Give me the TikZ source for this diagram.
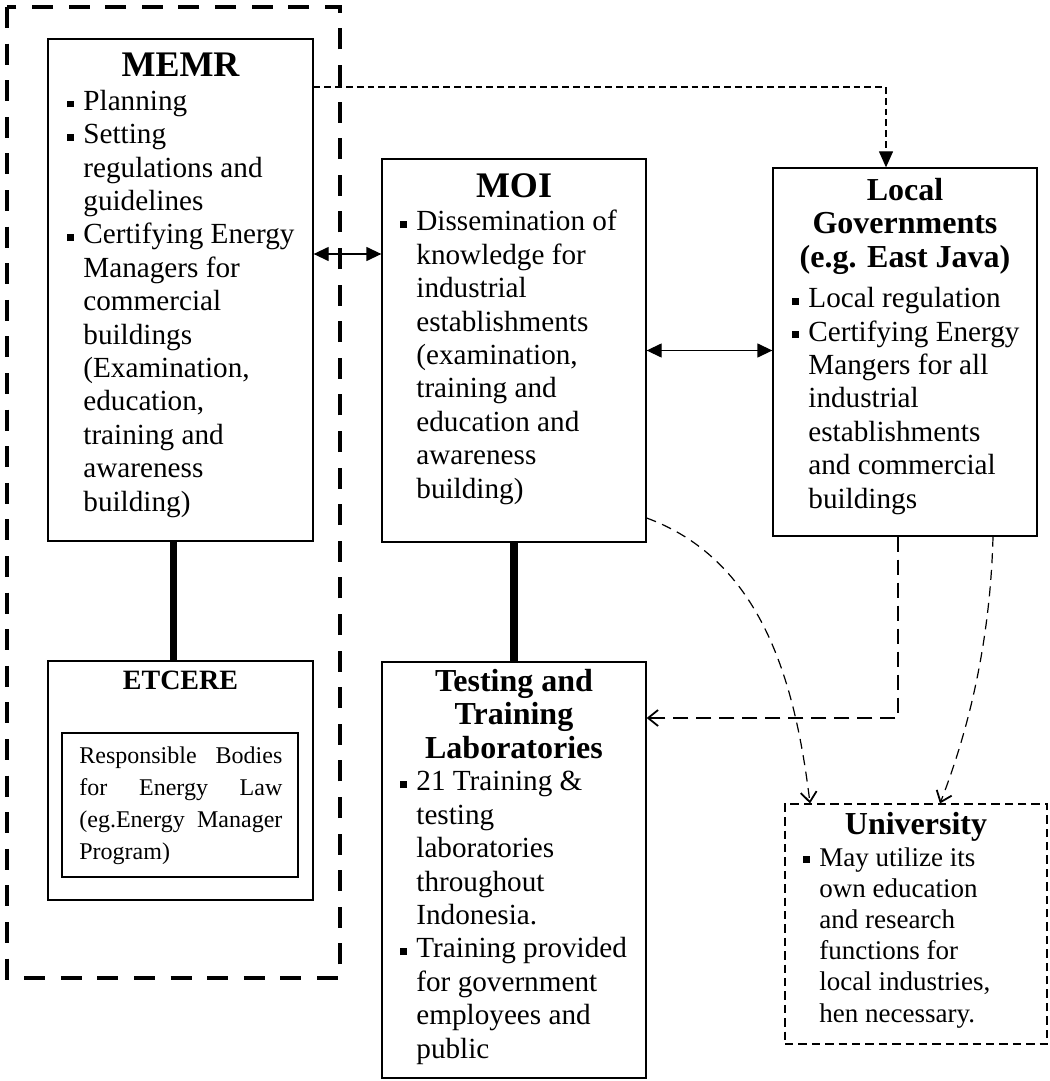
\documentclass[tikz,border=0pt]{standalone}
\usepackage{fontspec}
\setmainfont{Liberation Serif}
\usetikzlibrary{arrows.meta,positioning}

% square bullet and the hanging indent of its follow-on lines
\newcommand{\sqitem}{\makebox[8pt][l]{\rule[1.4pt]{3.4pt}{3.4pt}}}
\newcommand{\sqhang}{\hspace*{8pt}}

\begin{document}
\begin{tikzpicture}[x=0.5pt, y=-0.5pt,
      box/.style={draw, line width=0.65pt, inner sep=0pt},
      head/.style={anchor=base, align=center, inner sep=0pt,
                   font=\fontsize{18}{20}\selectfont\bfseries},
      subhead/.style={anchor=base, align=center, inner sep=0pt,
                      font=\fontsize{16}{16.6}\selectfont\bfseries},
      % multi-line texts are placed by the baseline of their last line
      body/.style={anchor=base west, align=left, inner sep=0pt,
                   font=\fontsize{14.6}{16.7}\selectfont},
      group/.style={line width=2.2pt, dash pattern=on 10.5pt off 7.8pt},
      link/.style={line width=3.8pt},
      twoway/.style={line width=0.65pt,
                     {Triangle[length=7.5pt,width=7pt]}-{Triangle[length=7.5pt,width=7pt]}},
      thindash/.style={line width=0.55pt, dash pattern=on 3.4pt off 2pt},
      longdash/.style={line width=0.6pt, dash pattern=on 7.5pt off 4pt},
      curvedash/.style={line width=0.6pt, dash pattern=on 5pt off 3.3pt},
      barb/.style={-{Straight Barb[length=5pt,width=8pt,line width=0.9pt]}}]

    \useasboundingbox[fill=white] (0,0) rectangle (1049,1081);

    % ministry of energy group
    \draw[group] (7,7) rectangle (340,978);

    \node[box, minimum width=132.5pt, minimum height=251pt] (memr) at (180.5,290) {};
    \node[head] (memr-head) at (180.5,77) {MEMR};
    \node[body] (memr-txt) at (67,511)
      {\sqitem Planning\\
       \sqitem Setting\\
       \sqhang regulations and\\
       \sqhang guidelines\\
       \sqitem Certifying Energy\\
       \sqhang Managers for\\
       \sqhang commercial\\
       \sqhang buildings\\
       \sqhang (Examination,\\
       \sqhang education,\\
       \sqhang training and\\
       \sqhang awareness\\
       \sqhang building)};

    \node[box, minimum width=132.5pt, minimum height=119.5pt] (etcere) at (180.5,780.5) {};
    \node[anchor=base, inner sep=0pt, font=\fontsize{14}{16}\selectfont\bfseries]
      (etcere-head) at (180.5,689) {ETCERE};
    \node[box, line width=0.8pt, minimum width=118pt, minimum height=72pt] (rbodies) at (180,805) {};
    \node[anchor=base west, align=left, inner sep=0pt, font=\fontsize{12}{16}\selectfont]
      (rbodies-txt) at (79,859)
      {\makebox[101.5pt][s]{Responsible Bodies}\\
       \makebox[101.5pt][s]{for Energy Law}\\
       \makebox[101.5pt][s]{(eg.Energy Manager}\\
       Program)};

    % industry side
    \node[box, minimum width=132pt, minimum height=191.5pt] (moi) at (514,350.5) {};
    \node[head] (moi-head) at (514,197) {MOI};
    \node[body] (moi-txt) at (400,498)
      {\sqitem Dissemination of\\
       \sqhang knowledge for\\
       \sqhang industrial\\
       \sqhang establishments\\
       \sqhang (examination,\\
       \sqhang training and\\
       \sqhang education and\\
       \sqhang awareness\\
       \sqhang building)};

    \node[box, minimum width=132pt, minimum height=208pt] (labs) at (514,870) {};
    \node[subhead] (labs-head) at (514,758) {Testing and\\Training\\Laboratories};
    \node[body] (labs-txt) at (400,1058)
      {\sqitem 21 Training \&\\
       \sqhang testing\\
       \sqhang laboratories\\
       \sqhang throughout\\
       \sqhang Indonesia.\\
       \sqitem Training provided\\
       \sqhang for government\\
       \sqhang employees and\\
       \sqhang public};

    \node[box, minimum width=132pt, minimum height=184pt] (locgov) at (905,352) {};
    \node[subhead] (locgov-head) at (905,267) {Local\\Governments\\(e.g. East Java)};
    \node[body] (locgov-txt) at (792,508)
      {\sqitem Local regulation\\
       \sqitem Certifying Energy\\
       \sqhang Mangers for all\\
       \sqhang industrial\\
       \sqhang establishments\\
       \sqhang and commercial\\
       \sqhang buildings};

    \node[box, line width=0.55pt, dash pattern=on 4.2pt off 2.5pt,
          minimum width=131pt, minimum height=120pt] (univ) at (916,924) {};
    \node[subhead] (univ-head) at (916,834) {University};
    \node[body, font=\fontsize{13.5}{15.6}\selectfont] (univ-txt) at (803,1022)
      {\sqitem May utilize its\\
       \sqhang own education\\
       \sqhang and research\\
       \sqhang functions for\\
       \sqhang local industries,\\
       \sqhang hen necessary.};

    % links
    \draw[link] ([xshift=-3.5pt]memr.south) -- ([xshift=-3.5pt]etcere.north);
    \draw[link] (moi.south) -- (labs.north);

    \draw[twoway] ([yshift=18pt]memr.east) -- ([yshift=18pt]memr.east -| moi.west);
    \draw[twoway] (moi.east) -- (moi.east -| locgov.west);

    \draw[thindash, -{Triangle[length=8pt,width=7pt]}]
      ([yshift=101.5pt]memr.east) -| ([xshift=-9.5pt]locgov.north);
    \draw[longdash, barb] ([xshift=-3.5pt]locgov.south) |- ([yshift=76pt]labs.east);

    \draw[curvedash, barb] ([yshift=-83.75pt]moi.east)
      .. controls +(114,42) and +(-15,-124) .. ([xshift=-53pt]univ.north);
    \draw[curvedash, barb] ([xshift=44pt]locgov.south)
      .. controls +(-3,114) and +(25,-64) .. ([xshift=12pt]univ.north);
  \end{tikzpicture}
\end{document}
